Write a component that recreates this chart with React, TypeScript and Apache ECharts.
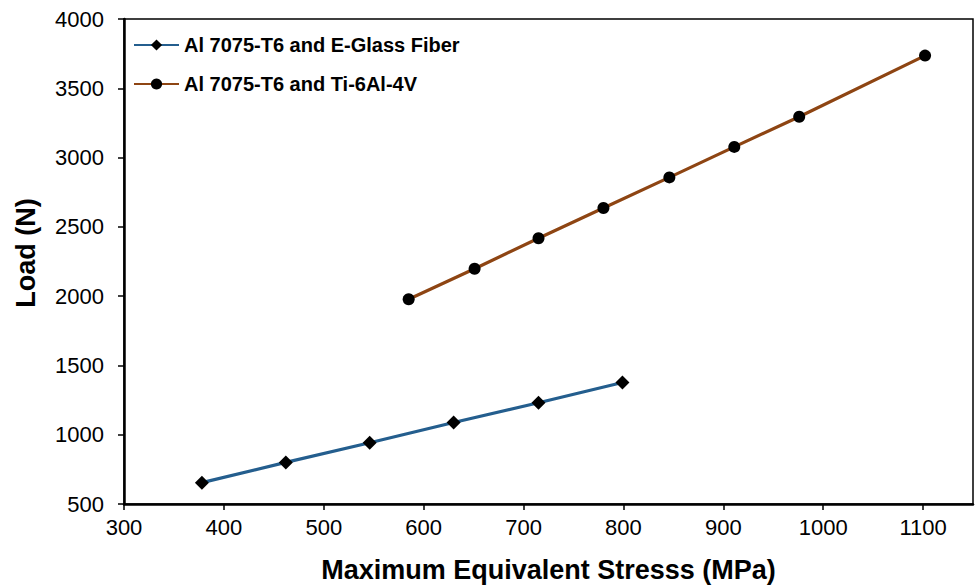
import React, { useEffect, useRef } from "react";
import * as echarts from "echarts";

const seriesNames = ["Al 7075-T6 and E-Glass Fiber", "Al 7075-T6 and Ti-6Al-4V"];
const glassStress = [378, 462, 546, 630, 715, 799];
const glassLoad = [654, 800, 942, 1088, 1231, 1377];
const tiStress = [585, 651, 715, 780, 846, 911, 976, 1102];
const tiLoad = [1978, 2198, 2418, 2636, 2857, 3077, 3295, 3736];
const xTitle = "Maximum Equivalent Stresss (MPa)";
const yTitle = "Load (N)";

const FONT = "'Liberation Sans', Arial, sans-serif";

export default function App() {
  const ref = useRef<HTMLDivElement>(null);
  useEffect(() => {
    if (!ref.current) return;
    const chart = echarts.init(ref.current, undefined, { renderer: "svg" });
    const pair = (xs: number[], ys: number[]) => xs.map((x, i) => [x, ys[i]]);
    chart.setOption({
      animation: false,
      backgroundColor: "#ffffff",
      textStyle: { fontFamily: FONT },
      grid: {
        left: 124,
        right: 3,
        top: 19,
        bottom: 82,
        show: true,
        borderColor: "#000",
        borderWidth: 1.5,
        backgroundColor: "transparent",
      },
      legend: {
        orient: "vertical",
        left: 128,
        top: 30,
        itemWidth: 45,
        itemHeight: 14,
        itemGap: 19,
        textStyle: { fontFamily: FONT, fontSize: 20, fontWeight: "bold", color: "#000" },
        data: seriesNames,
      },
      xAxis: {
        type: "value",
        min: 300,
        max: 1150,
        interval: 100,
        name: xTitle,
        nameLocation: "middle",
        nameGap: 52,
        nameTextStyle: { fontFamily: FONT, fontSize: 27, fontWeight: "bold", color: "#000" },
        axisLine: { show: true, lineStyle: { color: "#000", width: 2.5 } },
        axisTick: { show: true, length: 6, lineStyle: { color: "#000", width: 1.5 } },
        axisLabel: {
          fontFamily: FONT,
          fontSize: 22,
          color: "#000",
          margin: 12,
          showMaxLabel: false,
          formatter: (v: number) => String(v),
        },
        splitLine: { show: false },
      },
      yAxis: {
        type: "value",
        min: 500,
        max: 4000,
        interval: 500,
        axisLine: { show: true, lineStyle: { color: "#000", width: 2.5 } },
        axisTick: { show: true, length: 6, lineStyle: { color: "#000", width: 1.5 } },
        axisLabel: {
          fontFamily: FONT,
          fontSize: 22,
          color: "#000",
          margin: 20,
          formatter: (v: number) => String(v),
        },
        splitLine: { show: false },
      },
      graphic: [
        {
          type: "text",
          x: 26,
          y: 253,
          rotation: Math.PI / 2,
          style: {
            text: yTitle,
            fontFamily: FONT,
            fontSize: 27,
            fontWeight: "bold",
            fill: "#000",
            align: "center",
            verticalAlign: "middle",
          },
        },
      ],
      series: [
        {
          name: seriesNames[0],
          type: "line",
          data: pair(glassStress, glassLoad),
          symbol: "diamond",
          symbolSize: 14,
          itemStyle: { color: "#000" },
          lineStyle: { color: "#245E8E", width: 3.2 },
        },
        {
          name: seriesNames[1],
          type: "line",
          data: pair(tiStress, tiLoad),
          symbol: "circle",
          symbolSize: 12,
          itemStyle: { color: "#000" },
          lineStyle: { color: "#8E4513", width: 3.2 },
        },
      ],
    });
    return () => chart.dispose();
  }, []);
  return <div ref={ref} style={{ width: 976, height: 588, position: "absolute", left: 0, top: 0 }} />;
}
